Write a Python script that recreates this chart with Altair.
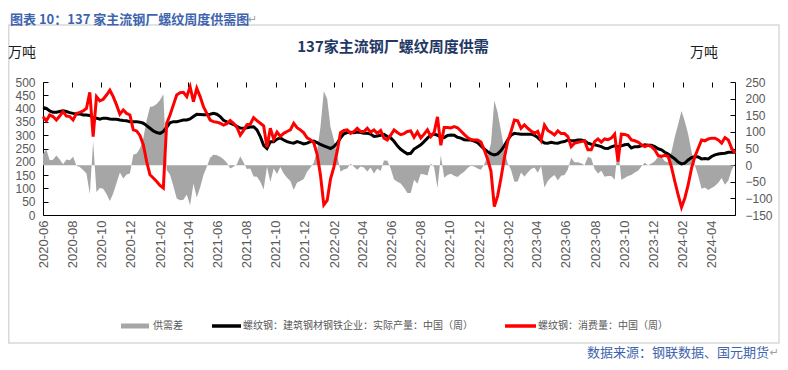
import altair as alt
import pandas as pd

# ---------------- data ----------------
start_date = "2020-06-01"

production = [
    404, 401, 391, 386, 386, 389, 392, 389, 385, 382,
    380, 380, 376, 376, 374, 366, 364, 360, 364, 364,
    361, 360, 360, 357, 355, 354, 351, 351, 351, 349,
    345, 336, 326, 316, 310, 307, 314, 330, 347, 351,
    351, 354, 357, 357, 361, 370, 379, 378, 377, 377,
    379, 382, 379,
    370, 356, 350, 345, 340, 333, 327,
    326, 328, 331, 332, 320, 295, 262, 250, 275, 275,
    285, 290, 282, 276, 272, 270, 276, 272, 267, 270,
    276, 278, 272, 265, 260, 255, 250, 257, 270, 290,
    305, 310, 311, 309, 312, 310, 307, 307, 304, 295,
    297, 300, 303, 295, 290,
    277, 260, 247, 238, 230,
    232, 248, 256, 264, 276, 289, 300, 304, 300, 292,
    291, 299, 301, 300, 292, 289, 283, 282, 282, 278,
    272, 260, 248, 238, 230, 226, 230, 242, 260, 282,
    300, 307, 305, 304, 304, 304, 304, 300, 291, 279,
    271, 270, 273, 271, 270, 274, 276,
    282, 279, 279,
    282, 282, 279, 270, 266, 264, 261, 257, 251, 250,
    256, 260, 257, 260, 264, 266, 252, 257, 257, 260,
    264, 262, 262, 257, 249, 245, 236, 229, 220, 211,
    199, 192, 195, 207, 216, 220, 218, 211, 212, 211,
    220, 226, 229, 231, 232, 236, 236, 236,
]

consumption = [
    370, 354, 376, 370, 357, 372, 389, 372, 370, 357,
    382, 386, 391, 401, 461, 295, 445, 429, 435, 451,
    469, 445, 414, 379, 395, 382, 376, 320, 316, 299,
    264, 201, 151, 139, 126, 111, 101, 345, 376, 414,
    451, 460, 461, 445, 482, 426, 476, 445, 407, 382,
    357, 351, 349,
    345, 338, 343, 355, 345, 330, 300,
    318, 340, 341, 366, 355, 345, 335, 255, 326, 285,
    312, 296, 307, 314, 320, 345, 328, 320, 309, 290,
    283, 271, 228, 150, 38, 55, 135, 180, 240, 310,
    318, 320, 307, 314, 326, 314, 314, 326, 311, 320,
    307, 318, 289, 282, 300,
    320, 310, 302, 306, 314,
    316, 292, 312, 290, 304, 320, 295, 310, 369, 262,
    329, 329, 327, 332, 328, 316, 303, 291, 284, 282,
    282, 274, 245, 210, 165, 32, 72, 139, 214, 276,
    314, 357, 354, 326, 339, 326, 316, 307, 314, 282,
    338, 318, 310, 301, 316, 306, 306,
    295, 257, 270,
    273, 276, 279, 245, 245, 276, 286, 274, 286, 283,
    289, 304, 201, 304, 303, 299, 282, 279, 274, 264,
    257, 262, 257, 245, 224, 220, 224, 220, 180, 126,
    76, 29, 64, 114, 176, 220, 251, 282, 279, 286,
    289, 289, 282, 270, 291, 282, 251, 232,
]

series_labels = [
    "供需差",
    "螺纹钢：建筑钢材钢铁企业：实际产量：中国（周）",
    "螺纹钢：消费量：中国（周）",
]
series_colors = ["#a6a6a6", "#000000", "#ff0000"]

x_tick_labels = [
    "2020-06", "2020-08", "2020-10", "2020-12",
    "2021-02", "2021-04", "2021-06", "2021-08", "2021-10", "2021-12",
    "2022-02", "2022-04", "2022-06", "2022-08", "2022-10", "2022-12",
    "2023-02", "2023-04", "2023-06", "2023-08", "2023-10", "2023-12",
    "2024-02", "2024-04",
]
left_ticks = [0, 50, 100, 150, 200, 250, 300, 350, 400, 450, 500]
right_ticks = [-150, -100, -50, 0, 50, 100, 150, 200, 250]

chart_title = "137家主流钢厂螺纹周度供需"
caption = "图表 10：137 家主流钢厂螺纹周度供需图"
source = "数据来源：钢联数据、国元期货"
unit = "万吨"

# ---------------- chart ----------------
dates = pd.date_range(start_date, periods=len(production), freq="7D")
df = pd.DataFrame({"date": dates, "prod": production, "cons": consumption})
df["gap"] = df["prod"] - df["cons"]


def month_dt(s):
    y, m = s.split("-")
    return alt.DateTime(year=int(y), month=int(m), date=1)


last = dates[-1]
x_scale = alt.Scale(
    domain=[month_dt("2020-06"),
            alt.DateTime(year=int(last.year), month=int(last.month), date=int(last.day))],
    nice=False,
)

CJK = "Noto Sans CJK SC"
NUM = "Liberation Sans"

axis_common = dict(
    domainColor="#000000", domainWidth=1,
    ticks=False, tickSize=0,
    grid=True, gridColor="#000000", gridDash=[5, 3000], gridWidth=1, gridOpacity=1,
    labelColor="#595959", labelFont=NUM, labelOverlap=False,
    title="",
)

x_axis = alt.Axis(
    values=[month_dt(s) for s in x_tick_labels], format="%Y-%m",
    labelAngle=270, labelAlign="right", labelBaseline="middle",
    labelPadding=5, labelFlush=False, labelFontSize=13, **axis_common,
)
left_axis = alt.Axis(values=left_ticks, orient="left", labelPadding=8,
                     labelFontSize=12, **axis_common)
right_axis = alt.Axis(values=right_ticks, orient="right", labelPadding=10,
                      labelFontSize=12, **axis_common)

left_scale = alt.Scale(domain=[0, 500], nice=False)
right_scale = alt.Scale(domain=[-150, 250], nice=False, zero=False)

X = alt.X("date:T", scale=x_scale, axis=x_axis)
base = alt.Chart(df)

area = base.mark_area(color=series_colors[0], opacity=1).encode(
    x=X, y=alt.Y("gap:Q", scale=right_scale, axis=right_axis), y2=alt.datum(0)
)
black = base.mark_line(color=series_colors[1], strokeWidth=3).encode(
    x=X, y=alt.Y("prod:Q", scale=left_scale, axis=left_axis)
)
red = base.mark_line(color=series_colors[2], strokeWidth=3).encode(
    x=X, y=alt.Y("cons:Q", scale=left_scale, axis=left_axis)
)
lines = alt.layer(black, red)


def text_layer(txt, x, y, size, color, font, weight="normal", align="left"):
    return alt.Chart(pd.DataFrame({"t": [txt]})).mark_text(
        align=align, baseline="middle", font=font, fontSize=size,
        fontWeight=weight, color=color,
    ).encode(text="t:N", x=alt.value(x), y=alt.value(y))


def rule_layer(x1, x2, y, color, width):
    return alt.Chart(pd.DataFrame({"k": [0]})).mark_rule(
        color=color, strokeWidth=width
    ).encode(x=alt.value(x1), x2=alt.value(x2), y=alt.value(y))


frame = alt.Chart(pd.DataFrame({"k": [0]})).mark_rect(
    fill="#ffffff", fillOpacity=0, stroke="#d9d9d9", strokeWidth=1.5
).encode(x=alt.value(-34.25), x2=alt.value(736), y=alt.value(-57), y2=alt.value(261))

legend_y = 244
decor = [
    frame,
    text_layer(caption, -33, -62, 13, "#3e64ae", CJK, weight="bold"),
    text_layer("↵", 205, -62, 11, "#a0a0a0", "DejaVu Sans"),
    text_layer(chart_title, 350, -35, 15, "#1f3864", CJK, weight="bold", align="center"),
    text_layer(unit, -21, -29, 14, "#1a1a1a", CJK, align="center"),
    text_layer(unit, 661, -29, 14, "#1a1a1a", CJK, align="center"),
    rule_layer(78, 106, legend_y, series_colors[0], 5),
    text_layer(series_labels[0], 110, legend_y, 10, "#595959", CJK),
    rule_layer(169, 198, legend_y, series_colors[1], 3.5),
    text_layer(series_labels[1], 200, legend_y, 10, "#595959", CJK),
    rule_layer(462, 493, legend_y, series_colors[2], 3.5),
    text_layer(series_labels[2], 495, legend_y, 10, "#595959", CJK),
    text_layer(source, 726, 271, 13, "#3e64ae", CJK, align="right"),
    text_layer("↵", 736, 271, 11, "#a0a0a0", "DejaVu Sans", align="right"),
]

chart = (
    alt.layer(area, lines, *decor)
    .resolve_scale(y="independent")
    .properties(
        width=692, height=133,
        padding={"left": 35, "top": 74, "right": 45, "bottom": 145},
        autosize=alt.AutoSizeParams(type="none"),
    )
    .configure_view(strokeWidth=0)
)

chart.save("out.html", embed_options={"renderer": "svg", "actions": False})
